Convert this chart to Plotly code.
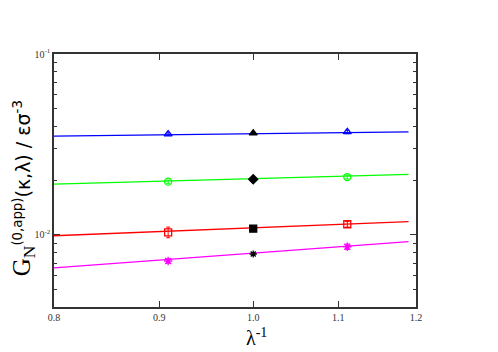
import plotly.graph_objects as go

# data points (x = 1/lambda)
x_pts = [1/1.1, 1.0, 1/0.9]
blue_y = [0.0361, 0.0365, 0.0371]
green_y = [0.0197, 0.0203, 0.0209]
red_y = [0.01035, 0.01084, 0.01146]
mag_y = [0.00718, 0.00785, 0.00861]
blue_err = [0.0006, 0.0003, 0.0008]
green_err = [0.0004, 0.0003, 0.0005]
red_err = [0.0007, 0.0002, 0.0004]
mag_err = [0.0002, 0.0002, 0.0003]

# fit lines (endpoints)
line_x = [0.8, 1.19]
blue_line = [0.0352, 0.0371]
green_line = [0.0191, 0.0216]
red_line = [0.0099, 0.01186]
mag_line = [0.00658, 0.00918]

x_ticks = [0.8, 0.9, 1.0, 1.1, 1.2]
x_ticktext = ["0.8", "0.9", "1.0", "1.1", "1.2"]
y_ticks = [0.01, 0.1]
y_ticktext = ["10<sup>-2</sup>", "10<sup>-1</sup>"]
y_minor = [0.004, 0.005, 0.006, 0.007, 0.008, 0.009,
           0.02, 0.03, 0.04, 0.05, 0.06, 0.07, 0.08, 0.09]

series = [
    ("blue", blue_y, blue_err, blue_line, "triangle-up-open", "triangle-up", 7),
    ("#00ff00", green_y, green_err, green_line, "circle-open", "diamond", 7),
    ("red", red_y, red_err, red_line, "square-open", "square", 7),
    ("magenta", mag_y, mag_err, mag_line, "asterisk-open", "asterisk-open", 6),
]

fig = go.Figure()
for color, ys, errs, ly, sym, black_sym, bsize in series:
    fig.add_trace(go.Scatter(x=line_x, y=ly, mode="lines",
                             line=dict(color=color, width=1.3), showlegend=False))
    xs = [x_pts[0], x_pts[2]]
    fig.add_trace(go.Scatter(
        x=xs, y=[ys[0], ys[2]], mode="markers",
        marker=dict(symbol=sym, size=7, color=color, line=dict(color=color, width=1.3)),
        error_y=dict(type="data", array=[errs[0], errs[2]], color=color, thickness=1, width=2),
        showlegend=False))
    fig.add_trace(go.Scatter(
        x=[x_pts[1]], y=[ys[1]], mode="markers",
        marker=dict(symbol=black_sym, size=bsize,
                    color="black", line=dict(color="black", width=1.3)),
        showlegend=False))

axis_common = dict(showline=True, linecolor="#333333", linewidth=1.5, mirror="ticks",
                   ticks="inside", tickcolor="#333333", showgrid=False, zeroline=False,
                   tickfont=dict(family="Liberation Serif", size=10, color="#333333"))

fig.update_xaxes(type="log", range=[-0.09691, 0.0791812],
                 tickvals=x_ticks, ticktext=x_ticktext, ticklen=6, **axis_common)
fig.update_yaxes(type="log", range=[-2.39794, -1.0],
                 tickvals=y_ticks, ticktext=y_ticktext, ticklen=6,
                 minor=dict(tickvals=y_minor, ticks="inside", ticklen=3, tickcolor="#333333"),
                 **axis_common)

fig.add_annotation(
    x=0.56, y=-0.065, xref="paper", yref="paper", xanchor="center", yanchor="top",
    showarrow=False,
    text="λ<sup>-1</sup>",
    font=dict(family="Liberation Serif", size=20, color="black"))

fig.add_annotation(
    x=-0.085, y=0.47, xref="paper", yref="paper", xanchor="center", yanchor="middle",
    showarrow=False, textangle=-90,
    text="<span style='font-family:Liberation Serif;font-size:25px'>G<sub>N</sub></span>"
         "<sup>(0,app)</sup>(κ,λ) / εσ<sup>-3</sup>",
    font=dict(family="DejaVu Sans", size=19, color="black"))

fig.update_layout(width=490, height=344, margin=dict(l=46, r=82, t=46, b=45),
                  plot_bgcolor="white", paper_bgcolor="white")
fig.write_html("out.html")
